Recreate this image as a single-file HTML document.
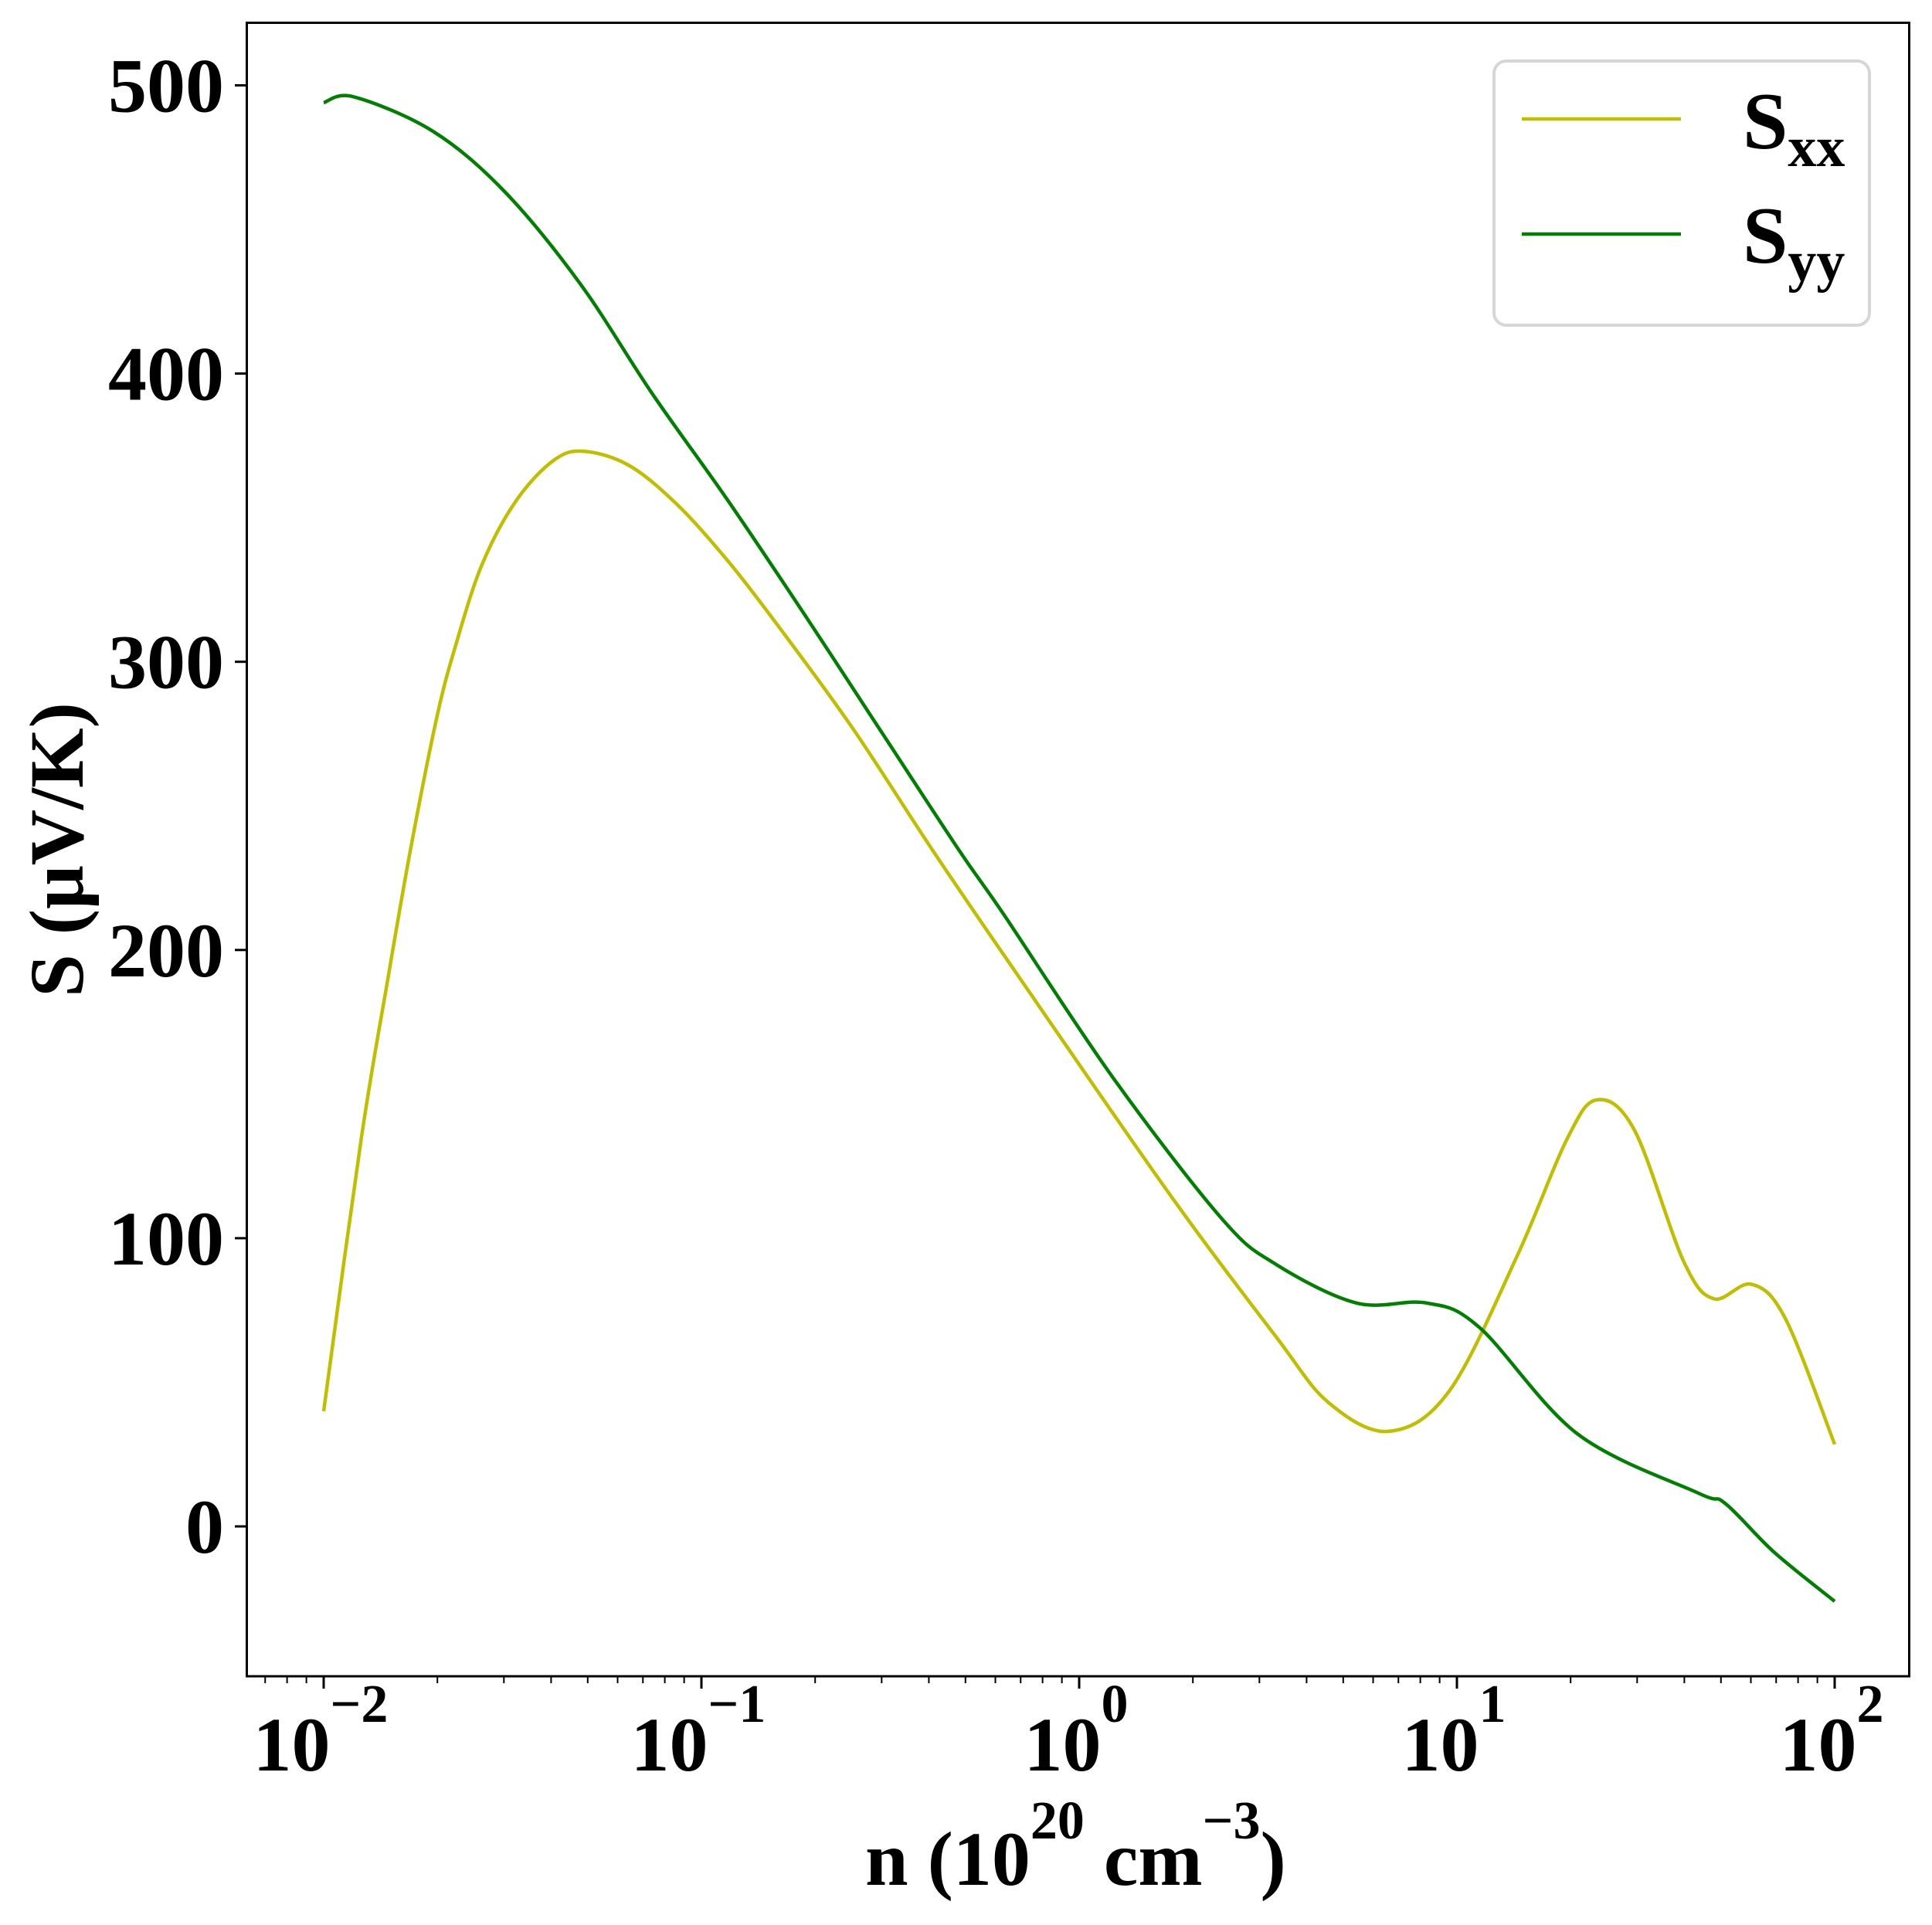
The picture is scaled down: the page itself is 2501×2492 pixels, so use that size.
<!DOCTYPE html>
<html><head><meta charset="utf-8"><style>
html,body{margin:0;padding:0;background:#fff;}
svg{display:block;font-family:"Liberation Serif",serif;font-weight:bold;}
</style></head><body>
<svg id="chart" width="2501" height="2492" viewBox="0 0 2501 2492" xmlns="http://www.w3.org/2000/svg">
<rect x="0" y="0" width="2501" height="2492" fill="#fff"/>
<g id="series"></g>
<rect x="319.5" y="29.5" width="2152" height="2140.5" fill="none" stroke="#000" stroke-width="3"/>
<g id="xticks"></g>
<g id="yticks"></g>
<text x="107" y="1100" font-size="100" text-anchor="middle" transform="rotate(-90 107 1100)">S (μV/K)</text>
<text x="1120" y="2440" font-size="100">n (10<tspan font-size="70" dy="-60">20</tspan><tspan dy="60"> cm</tspan><tspan font-size="70" dy="-60">−3</tspan><tspan dy="60">)</tspan></text>
<g>
<rect x="1934" y="79" width="486" height="342" rx="16" fill="#fff" stroke="#d6d6d6" stroke-width="4"/>
<line x1="1970" y1="154" x2="2176" y2="154" stroke="#bfbf00" stroke-width="4.5"/>
<text x="2256" y="192" font-size="105">S<tspan font-size="74" dy="23">xx</tspan></text>
<line x1="1970" y1="303" x2="2176" y2="303" stroke="#008000" stroke-width="4.5"/>
<text x="2256" y="340" font-size="105">S<tspan font-size="74" dy="23">yy</tspan></text>
</g>
</svg>
<script>
const logN = [-2,-1.9,-1.83,-1.77,-1.70,-1.65,-1.58,-1.49,-1.39,-1.31,-1.19,-1.06,-0.93,-0.80,-0.60,-0.39,-0.198,0.23,0.52,0.66,0.82,0.98,1.16,1.29,1.37,1.47,1.60,1.68,1.78,1.87,2.0];
const sxx = [40,135,190,235,281,306,334,356,370,373,368,354,335,313,277,235,198,117,66,43,33,47,94,134,148,137.5,92,79,84,72,28.5];
const logNy = [-2,-1.92,-1.71,-1.52,-1.32,-1.13,-0.93,-0.73,-0.54,-0.32,-0.198,0.088,0.376,0.52,0.734,0.92,1.06,1.32,1.64,1.71,1.84,2.0];
const syy = [494,496,484,463,431,393,356,317,279,235,212,156,107,91,77.5,77.5,69,32,11.5,8,-9,-26];
const yTicks = [0,100,200,300,400,500];
const xDecades = [-2,-1,0,1,2];

const NS='http://www.w3.org/2000/svg';
const X0=419, DEC=489, Y0=1976, PER100=373.1;
function xs(l){return X0+(l+2)*DEC;}
function ys(v){return Y0-v*PER100/100;}
function mk(tag,attrs,parent){const e=document.createElementNS(NS,tag);for(const k in attrs)e.setAttribute(k,attrs[k]);parent.appendChild(e);return e;}
function path(xsA,ysA){
  const p=xsA.map((l,i)=>[xs(l),ys(ysA[i])]);
  let d='M'+p[0][0]+','+p[0][1];
  for(let i=0;i<p.length-1;i++){
    const p0=p[Math.max(0,i-1)],p1=p[i],p2=p[i+1],p3=p[Math.min(p.length-1,i+2)];
    const c1=[p1[0]+(p2[0]-p0[0])/6,p1[1]+(p2[1]-p0[1])/6];
    const c2=[p2[0]-(p3[0]-p1[0])/6,p2[1]-(p3[1]-p1[1])/6];
    d+=' C'+c1[0].toFixed(1)+','+c1[1].toFixed(1)+' '+c2[0].toFixed(1)+','+c2[1].toFixed(1)+' '+p2[0].toFixed(1)+','+p2[1].toFixed(1);
  }
  return d;
}
const sg=document.getElementById('series');
const l1=mk('path',{d:path(logN,sxx),fill:'none',stroke:'#bfbf00','stroke-width':4.5,'stroke-linejoin':'round'},sg);


const l2=mk('path',{d:path(logNy,syy),fill:'none',stroke:'#008000','stroke-width':4.5,'stroke-linejoin':'round'},sg);



const xt=document.getElementById('xticks');
for(let d=-3;d<=2;d++){
  for(let m=1;m<10;m++){
    const l=d+Math.log10(m);
    const x=xs(l);
    if(x<320||x>2471)continue;
    const major=m===1;
    const t=mk('line',{x1:x,y1:2170,x2:x,y2:major?2186:2179,stroke:'#000','stroke-width':major?3:2},xt);
    
    
  }
}
xDecades.forEach(d=>{
  const x=xs(d);
  const tx=mk('text',{x:x-4,y:2292,'font-size':100,'text-anchor':'middle'},xt);
  
  
  tx.appendChild(document.createTextNode('10'));
  const sup=mk('tspan',{'font-size':70,dy:-63},tx);
  sup.textContent=(d<0?'−':'')+Math.abs(d);
});
const yt=document.getElementById('yticks');
yTicks.forEach(v=>{
  const y=ys(v);
  const t=mk('line',{x1:304,y1:y,x2:320,y2:y,stroke:'#000','stroke-width':3},yt);
  
  
  const tx=mk('text',{x:290,y:y+34,'font-size':100,'text-anchor':'end'},yt);
  
  
  tx.textContent=v;
});
</script>
</body></html>
